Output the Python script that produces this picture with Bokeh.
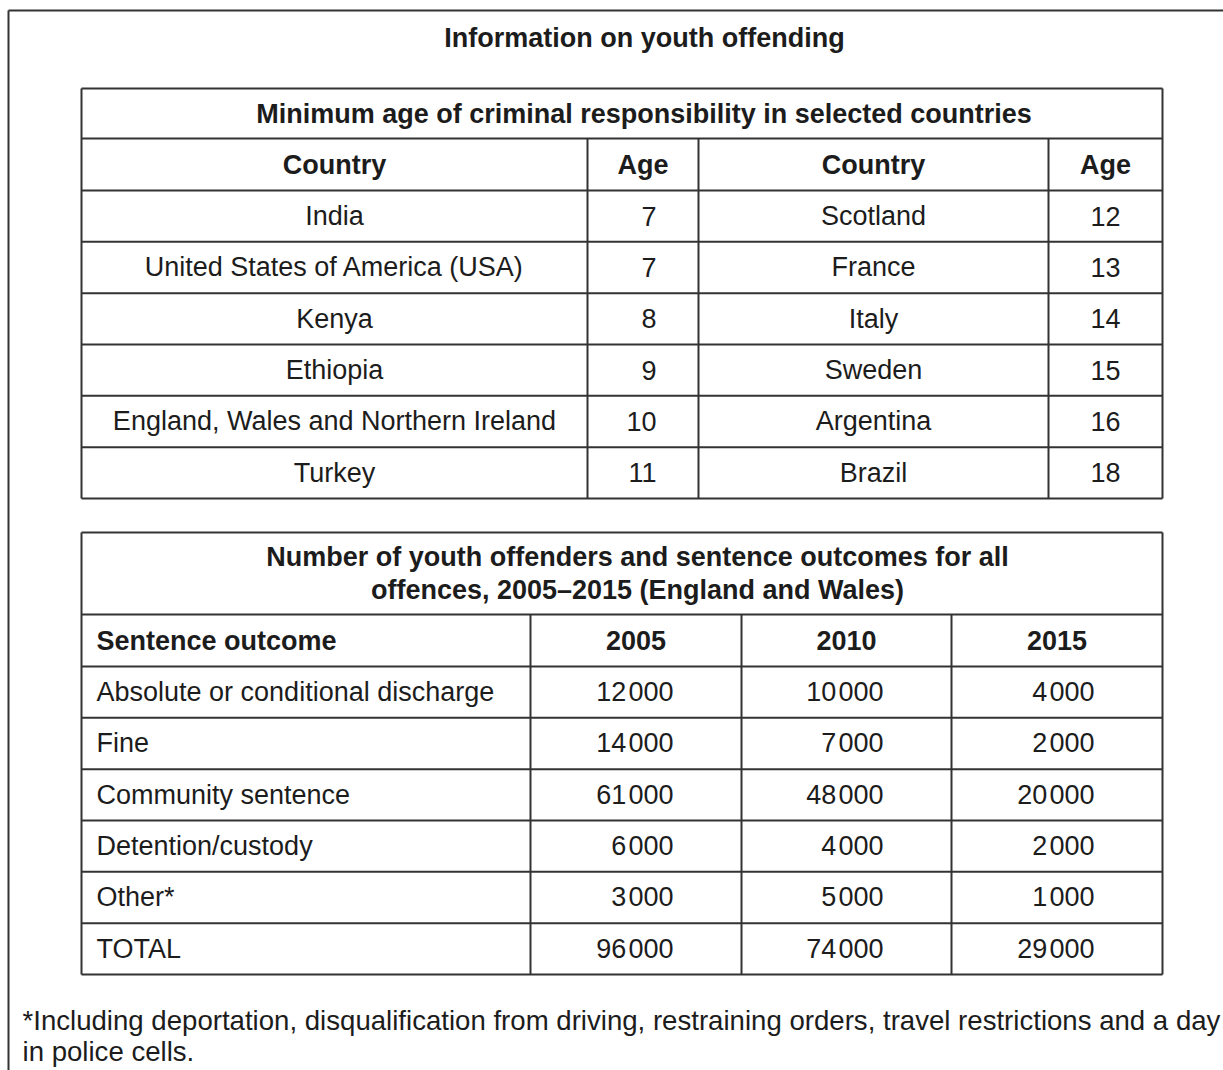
from bokeh.plotting import figure
from bokeh.models import Range1d
from bokeh.embed import file_html
from bokeh.resources import INLINE
from bokeh.core.properties import value

# ---------------- data ----------------
main_title = "Information on youth offending"
t1_title = "Minimum age of criminal responsibility in selected countries"
t1_headers = ["Country", "Age", "Country", "Age"]
countries_left = ["India", "United States of America (USA)", "Kenya", "Ethiopia",
                  "England, Wales and Northern Ireland", "Turkey"]
ages_left = [7, 7, 8, 9, 10, 11]
countries_right = ["Scotland", "France", "Italy", "Sweden", "Argentina", "Brazil"]
ages_right = [12, 13, 14, 15, 16, 18]

t2_title = ["Number of youth offenders and sentence outcomes for all",
            "offences, 2005\u20132015 (England and Wales)"]
t2_first_header = "Sentence outcome"
years = ["2005", "2010", "2015"]
outcomes = ["Absolute or conditional discharge", "Fine", "Community sentence",
            "Detention/custody", "Other*", "TOTAL"]
v2005 = [12000, 14000, 61000, 6000, 3000, 96000]
v2010 = [10000, 7000, 48000, 4000, 5000, 74000]
v2015 = [4000, 2000, 20000, 2000, 1000, 29000]

footnote = ["*Including deportation, disqualification from driving, restraining orders, travel restrictions and a day",
            "in police cells."]

# ---------------- layout ----------------
W, H = 1223, 1070
FONT = value("Liberation Sans")
FS = "27px"
TXT = "#1c1c1c"
LINE = "#333333"
LW = 2

p = figure(width=W, height=H, x_range=Range1d(0, W), y_range=Range1d(H, 0),
           output_backend="svg", toolbar_location=None, min_border=0)
p.axis.visible = False
p.grid.visible = False
p.outline_line_color = None
p.background_fill_color = "white"


def fmt(v):
    s = f"{v:,}"
    return s.replace(",", "\u200a")


def txt(xs, ys, texts, bold=False, align="center", size=FS):
    p.text(x=xs, y=ys, text=texts, text_font=FONT, text_font_size=size,
           text_font_style="bold" if bold else "normal", text_color=TXT,
           text_align=align, text_baseline="middle")


def hline(x0, x1, y):
    p.segment(x0=[x0], y0=[y], x1=[x1], y1=[y], line_color=LINE, line_width=LW)


def vline(x, y0, y1):
    p.segment(x0=[x], y0=[y0], x1=[x], y1=[y1], line_color=LINE, line_width=LW)


# outer frame (only left and top visible in the crop)
hline(8, W + 5, 10)
vline(8, 10, H + 5)

txt([644], [37], [main_title], bold=True)

# ---- table 1 ----
L, R = 81, 1162
t1_top, t1_head, t1_row0 = 88, 138, 190
rh = 51.33
n1 = len(countries_left)
t1_bot = t1_row0 + n1 * rh
hline(L, R, t1_top)
hline(L, R, t1_head)
for i in range(n1 + 1):
    hline(L, R, t1_row0 + i * rh)
vline(L, t1_top, t1_bot)
vline(R, t1_top, t1_bot)
cols1 = [L, 587, 698, 1048, R]
for cx in cols1[1:-1]:
    vline(cx, t1_head, t1_bot)
txt([(L + R) / 2 + 22], [113], [t1_title], bold=True)
centers1 = [(cols1[i] + cols1[i + 1]) / 2 for i in range(4)]
txt(centers1, [164] * 4, t1_headers, bold=True)
ys1 = [t1_row0 + (i + 0.5) * rh for i in range(n1)]
txt([centers1[0]] * n1, ys1, countries_left)
txt([cols1[2] - 42] * n1, ys1, [str(a) for a in ages_left], align="right")
txt([centers1[2]] * n1, ys1, countries_right)
txt([centers1[3]] * n1, ys1, [str(a) for a in ages_right])

# ---- table 2 ----
t2_top, t2_head, t2_row0 = 532, 614, 666
n2 = len(outcomes)
t2_bot = t2_row0 + n2 * rh
hline(L, R, t2_top)
hline(L, R, t2_head)
for i in range(n2 + 1):
    hline(L, R, t2_row0 + i * rh)
vline(L, t2_top, t2_bot)
vline(R, t2_top, t2_bot)
cols2 = [L, 530, 741, 951, R]
for cx in cols2[1:-1]:
    vline(cx, t2_head, t2_bot)
txt([637] * 2, [556, 589], t2_title, bold=True)
centers2 = [(cols2[i] + cols2[i + 1]) / 2 for i in range(1, 4)]
rights2 = [cols2[i + 1] - 68 for i in range(1, 4)]
txt([96], [640], [t2_first_header], bold=True, align="left")
txt(centers2, [640] * 3, years, bold=True)
ys2 = [t2_row0 + (i + 0.5) * rh for i in range(n2)]
txt([96] * n2, ys2, outcomes, align="left")
for rx, vals in zip(rights2, [v2005, v2010, v2015]):
    txt([rx] * n2, ys2, [fmt(v) for v in vals], align="right")

# ---- footnote ----
txt([22, 22], [1020, 1051], footnote, align="left", size="27.6px")

open("out.html", "w").write(file_html(p, INLINE))
